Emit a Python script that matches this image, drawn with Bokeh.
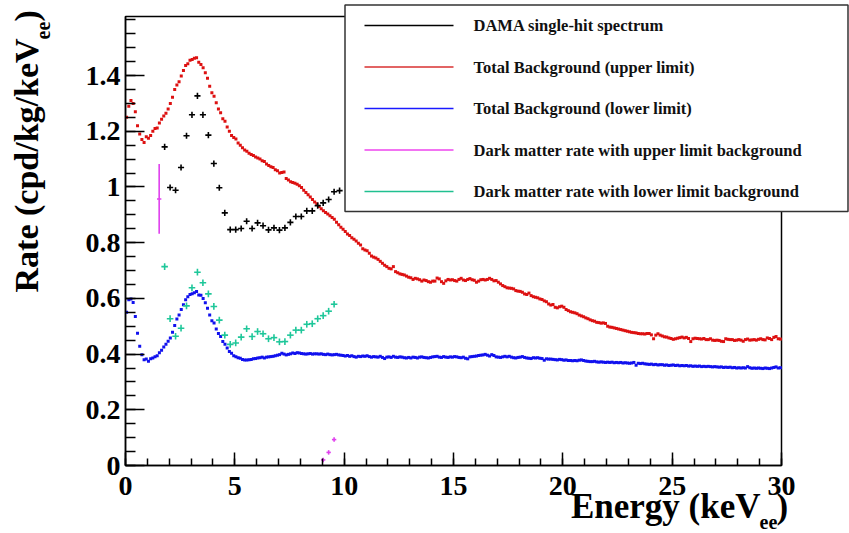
from bokeh.plotting import figure
from bokeh.models import (Range1d, FixedTicker, Label, LinearAxis,
                          CustomJSTickFormatter)
from bokeh.embed import file_html
from bokeh.resources import INLINE
import math

# ---- data -------------------------------------------------------------
# background model, 0.1 keV bins (bin centres)
energy = [round(0.05 + 0.1 * i, 2) for i in range(300)]

bkg_upper = [
    1.25, 1.29, 1.31, 1.30, 1.27, 1.22, 1.19, 1.17, 1.16, 1.18,
    1.175, 1.185, 1.20, 1.21, 1.212, 1.23, 1.243, 1.255, 1.265, 1.28,
    1.30, 1.322, 1.35, 1.366, 1.378, 1.398, 1.418, 1.436, 1.442, 1.455,
    1.458, 1.462, 1.464, 1.448, 1.440, 1.428, 1.410, 1.390, 1.362, 1.338,
    1.326, 1.302, 1.280, 1.266, 1.245, 1.236, 1.215, 1.200, 1.185, 1.178,
    1.172, 1.158, 1.150, 1.141, 1.133, 1.128, 1.121, 1.117, 1.113, 1.108,
    1.104, 1.100, 1.094, 1.091, 1.082, 1.077, 1.073, 1.070, 1.062, 1.058,
    1.050, 1.052, 1.054, 1.030, 1.025, 1.019, 1.016, 1.013, 1.010, 1.004,
    0.998, 0.988, 0.980, 0.972, 0.964, 0.955, 0.946, 0.940, 0.930, 0.922,
    0.915, 0.908, 0.903, 0.897, 0.890, 0.884, 0.873, 0.864, 0.855, 0.848,
    0.840, 0.831, 0.826, 0.818, 0.812, 0.806, 0.798, 0.792, 0.778, 0.774,
    0.771, 0.762, 0.752, 0.748, 0.745, 0.740, 0.733, 0.726, 0.719, 0.714,
    0.708, 0.706, 0.714, 0.696, 0.692, 0.688, 0.686, 0.684, 0.680, 0.676,
    0.674, 0.668, 0.672, 0.670, 0.667, 0.662, 0.666, 0.664, 0.660, 0.658,
    0.662, 0.662, 0.673, 0.670, 0.660, 0.654, 0.663, 0.668, 0.666, 0.667,
    0.664, 0.662, 0.668, 0.672, 0.666, 0.664, 0.668, 0.671, 0.667, 0.665,
    0.658, 0.662, 0.667, 0.668, 0.666, 0.668, 0.672, 0.668, 0.663, 0.664,
    0.658, 0.652, 0.646, 0.642, 0.638, 0.637, 0.636, 0.634, 0.628, 0.626,
    0.625, 0.622, 0.616, 0.614, 0.619, 0.610, 0.606, 0.604, 0.602, 0.598,
    0.596, 0.591, 0.588, 0.580, 0.576, 0.578, 0.568, 0.566, 0.570, 0.572,
    0.568, 0.560, 0.556, 0.552, 0.550, 0.548, 0.545, 0.540, 0.537, 0.534,
    0.530, 0.527, 0.523, 0.520, 0.518, 0.514, 0.513, 0.511, 0.512, 0.510,
    0.500, 0.497, 0.496, 0.494, 0.492, 0.490, 0.488, 0.486, 0.484, 0.482,
    0.480, 0.478, 0.477, 0.476, 0.474, 0.473, 0.473, 0.472, 0.474, 0.474,
    0.469, 0.455, 0.468, 0.473, 0.468, 0.465, 0.462, 0.461, 0.458, 0.456,
    0.453, 0.455, 0.457, 0.459, 0.461, 0.458, 0.460, 0.456, 0.445, 0.455,
    0.457, 0.456, 0.455, 0.454, 0.456, 0.452, 0.452, 0.455, 0.450, 0.449,
    0.450, 0.449, 0.446, 0.445, 0.455, 0.453, 0.452, 0.452, 0.449, 0.450,
    0.452, 0.450, 0.446, 0.452, 0.454, 0.450, 0.451, 0.452, 0.450, 0.453,
    0.455, 0.452, 0.451, 0.458, 0.456, 0.452, 0.460, 0.463, 0.455, 0.454,
]

bkg_lower = [
    0.550, 0.595, 0.598, 0.585, 0.535, 0.475, 0.428, 0.398, 0.380, 0.382,
    0.374, 0.383, 0.386, 0.390, 0.394, 0.405, 0.414, 0.425, 0.435, 0.446,
    0.458, 0.478, 0.503, 0.526, 0.540, 0.560, 0.577, 0.595, 0.606, 0.614,
    0.617, 0.620, 0.625, 0.612, 0.611, 0.600, 0.584, 0.565, 0.540, 0.520,
    0.512, 0.490, 0.474, 0.463, 0.445, 0.435, 0.422, 0.409, 0.403, 0.394,
    0.390, 0.387, 0.385, 0.381, 0.379, 0.379, 0.380, 0.381, 0.383, 0.384,
    0.386, 0.387, 0.389, 0.386, 0.389, 0.390, 0.391, 0.392, 0.394, 0.396,
    0.398, 0.403, 0.400, 0.397, 0.399, 0.401, 0.404, 0.402, 0.405, 0.404,
    0.402, 0.401, 0.400, 0.401, 0.402, 0.400, 0.401, 0.401, 0.400, 0.401,
    0.399, 0.398, 0.400, 0.398, 0.397, 0.398, 0.399, 0.397, 0.396, 0.395,
    0.393, 0.395, 0.392, 0.394, 0.391, 0.389, 0.392, 0.391, 0.393, 0.392,
    0.394, 0.391, 0.389, 0.391, 0.390, 0.389, 0.392, 0.388, 0.384, 0.389,
    0.390, 0.388, 0.392, 0.389, 0.388, 0.390, 0.389, 0.387, 0.386, 0.388,
    0.386, 0.389, 0.388, 0.386, 0.389, 0.390, 0.388, 0.387, 0.386, 0.388,
    0.390, 0.391, 0.392, 0.389, 0.388, 0.391, 0.389, 0.388, 0.390, 0.389,
    0.391, 0.390, 0.388, 0.387, 0.389, 0.385, 0.383, 0.390, 0.391, 0.392,
    0.393, 0.395, 0.396, 0.397, 0.399, 0.396, 0.393, 0.398, 0.395, 0.390,
    0.389, 0.388, 0.390, 0.392, 0.390, 0.392, 0.389, 0.387, 0.386, 0.388,
    0.389, 0.391, 0.388, 0.386, 0.385, 0.384, 0.387, 0.386, 0.387, 0.385,
    0.384, 0.378, 0.383, 0.382, 0.382, 0.381, 0.380, 0.379, 0.381, 0.380,
    0.378, 0.379, 0.377, 0.377, 0.376, 0.377, 0.376, 0.378, 0.379, 0.377,
    0.375, 0.374, 0.373, 0.373, 0.374, 0.372, 0.371, 0.372, 0.371, 0.370,
    0.371, 0.370, 0.371, 0.369, 0.370, 0.369, 0.370, 0.368, 0.369, 0.368,
    0.367, 0.368, 0.370, 0.360, 0.367, 0.366, 0.367, 0.365, 0.364, 0.363,
    0.364, 0.362, 0.363, 0.361, 0.362, 0.362, 0.360, 0.361, 0.359, 0.360,
    0.361, 0.359, 0.360, 0.358, 0.359, 0.358, 0.359, 0.357, 0.358, 0.356,
    0.357, 0.356, 0.357, 0.355, 0.356, 0.355, 0.356, 0.355, 0.354, 0.355,
    0.354, 0.353, 0.354, 0.352, 0.353, 0.352, 0.353, 0.351, 0.352, 0.350,
    0.351, 0.350, 0.351, 0.350, 0.355, 0.351, 0.349, 0.350, 0.349, 0.350,
    0.349, 0.348, 0.350, 0.349, 0.348, 0.350, 0.352, 0.354, 0.350, 0.351,
]

# DAMA single-hit spectrum, 0.25 keV bins
dama_energy = [1.79, 2.04, 2.29, 2.54, 2.79, 3.04, 3.29, 3.54, 3.79, 4.04,
               4.29, 4.54, 4.79, 5.04, 5.29, 5.54, 5.79, 6.04, 6.29, 6.54,
               6.79, 7.04, 7.29, 7.54, 7.79, 8.04, 8.29, 8.54, 8.79, 9.04,
               9.29, 9.54, 9.79]
dama_rate = [1.144, 0.998, 0.988, 1.070, 1.184, 1.259, 1.327, 1.259, 1.186, 1.084,
             0.997, 0.907, 0.847, 0.847, 0.851, 0.877, 0.851, 0.871, 0.861, 0.846,
             0.853, 0.845, 0.853, 0.873, 0.894, 0.894, 0.914, 0.914, 0.933, 0.943,
             0.955, 0.983, 0.987]
dama_err = [0.011, 0.011, 0.011, 0.011, 0.011, 0.011, 0.011, 0.011, 0.011, 0.011,
            0.011, 0.011, 0.011, 0.011, 0.011, 0.011, 0.011, 0.011, 0.011, 0.011,
            0.011, 0.011, 0.011, 0.011, 0.011, 0.011, 0.011, 0.011, 0.011, 0.011,
            0.011, 0.011, 0.011]

# dark-matter residual with the lower-limit background
dm_low_energy = dama_energy[:32]
dm_low_rate = [0.714, 0.527, 0.464, 0.493, 0.573, 0.638, 0.694, 0.656, 0.616, 0.571,
               0.522, 0.468, 0.435, 0.440, 0.461, 0.491, 0.463, 0.481, 0.473, 0.455,
               0.459, 0.444, 0.445, 0.468, 0.486, 0.486, 0.507, 0.509, 0.527, 0.538,
               0.554, 0.579]
dm_low_err = [0.012, 0.012, 0.012, 0.012, 0.012, 0.012, 0.012, 0.012, 0.012, 0.012,
              0.012, 0.012, 0.012, 0.012, 0.012, 0.012, 0.012, 0.012, 0.012, 0.012,
              0.012, 0.012, 0.012, 0.012, 0.012, 0.012, 0.012, 0.012, 0.012, 0.012,
              0.012, 0.012]

# dark-matter residual with the upper-limit background (positive bins only)
dm_up_energy = [1.54, 9.04, 9.29, 9.54]
dm_up_rate = [0.957, 0.020, 0.047, 0.093]
dm_up_err = [0.125, 0.008, 0.008, 0.008]

legend_labels = ["DAMA single-hit spectrum",
                 "Total Background (upper limit)",
                 "Total Background (lower limit)",
                 "Dark matter rate with upper limit background",
                 "Dark matter rate with lower limit background"]

y_ticks = [0, 0.2, 0.4, 0.6, 0.8, 1, 1.2, 1.4]
x_ticks = [0, 5, 10, 15, 20, 25, 30]
X_MAX = 30
Y_MAX = 1.612

# ---- page geometry ------------------------------------------------------
W, H = 849, 533
LEFT, RIGHT, TOP, BOTTOM = 125, 781, 16, 465     # plot box in pixels
SX = (RIGHT - LEFT) / X_MAX
SY = (BOTTOM - TOP) / Y_MAX


def dx(px):
    """pixel column -> energy coordinate"""
    return (px - LEFT) / SX


def dy(py):
    """pixel row -> rate coordinate"""
    return (BOTTOM - py) / SY


RED = "#dd1111"
BLUE = "#1111ee"
MAGENTA = "#e040ee"
TEAL = "#1fc79a"
FONT = "Liberation Serif"

# the frame fills the whole canvas; the axes sit at fixed positions inside it
p = figure(width=W, height=H,
           x_range=Range1d(dx(0), dx(W)), y_range=Range1d(dy(H), dy(0)),
           output_backend="svg", toolbar_location=None,
           x_axis_location=None, y_axis_location=None,
           min_border=0, min_border_left=0, min_border_right=0,
           min_border_top=0, min_border_bottom=0)
p.background_fill_color = "white"
p.border_fill_color = "white"
p.outline_line_color = None
p.grid.visible = False

xaxis = LinearAxis(fixed_location=0, bounds=(0, X_MAX),
                   ticker=FixedTicker(ticks=x_ticks, minor_ticks=list(range(0, 31))))
yaxis = LinearAxis(fixed_location=0, bounds=(0, Y_MAX),
                   ticker=FixedTicker(ticks=y_ticks,
                                      minor_ticks=[round(0.05 * i, 2) for i in range(33)]),
                   formatter=CustomJSTickFormatter(
                       code="return (Math.round(tick * 100) / 100).toString();"))
for ax in (xaxis, yaxis):
    ax.axis_line_color = "black"
    ax.axis_line_width = 1.5
    ax.major_tick_out = 0
    ax.minor_tick_out = 0
    ax.major_tick_line_width = 1.5
    ax.minor_tick_line_width = 1.5
    ax.major_label_text_font = FONT
    ax.major_label_text_font_style = "bold"
    ax.major_label_text_font_size = "28px"
    ax.major_label_text_color = "black"
xaxis.major_tick_in = 13
xaxis.minor_tick_in = 7
yaxis.major_tick_in = 19
yaxis.minor_tick_in = 10
xaxis.major_label_standoff = 11
yaxis.major_label_standoff = 5
p.add_layout(xaxis, "below")
p.add_layout(yaxis, "left")

# plot box
p.quad(left=0, right=X_MAX, bottom=0, top=Y_MAX, fill_color=None,
       line_color="black", line_width=1.5)

# background curves
p.scatter(energy, bkg_upper, marker="square", size=3, fill_color=RED, line_color=None)
p.scatter(energy, bkg_lower, marker="square", size=3, fill_color=BLUE, line_color=None)


def crosses(xs, ys, errs, half_w, color, width):
    p.segment(x0=[x - half_w for x in xs], y0=ys, x1=[x + half_w for x in xs], y1=ys,
              line_color=color, line_width=width)
    p.segment(x0=xs, y0=[y - e for y, e in zip(ys, errs)],
              x1=xs, y1=[y + e for y, e in zip(ys, errs)],
              line_color=color, line_width=width)


crosses(dama_energy, dama_rate, dama_err, 0.14, "black", 1.6)
crosses(dm_low_energy, dm_low_rate, dm_low_err, 0.15, TEAL, 1.6)
crosses(dm_up_energy, dm_up_rate, dm_up_err, 0.1, MAGENTA, 1.6)

# legend box
p.quad(left=dx(344.5), right=dx(847.5), top=dy(4.5), bottom=dy(211),
       fill_color="white", line_color="#333333", line_width=1.5)
leg_colors = ["black", "#d83030", "#1a1aff", "#ee44ee", "#20c090"]
leg_rows = [25, 66.5, 108, 149.5, 191]
for lab, col, row in zip(legend_labels, leg_colors, leg_rows):
    p.segment(x0=[dx(364)], y0=[dy(row)], x1=[dx(453)], y1=[dy(row)],
              line_color=col, line_width=1.6)
    p.add_layout(Label(x=dx(473), y=dy(row), text=lab, text_font=FONT,
                       text_font_style="bold", text_font_size="16.5px",
                       text_color="#111111", text_baseline="middle"))

# axis titles
title_kw = dict(text_font=FONT, text_font_style="bold", text_color="black",
                text_baseline="alphabetic")
p.add_layout(Label(x=dx(760), y=dy(506), text="Energy (keV", text_align="right",
                   text_font_size="35px", **title_kw))
p.add_layout(Label(x=dx(759), y=dy(521), text="ee", text_align="left",
                   text_font_size="20px", **title_kw))
p.add_layout(Label(x=dx(776), y=dy(506), text=")", text_align="left",
                   text_font_size="35px", **title_kw))

p.add_layout(Label(x=dx(26), y=dy(292), text="Rate (cpd/kg/keV", angle=math.pi / 2,
                   text_align="left", text_font_size="34px", **title_kw))
p.add_layout(Label(x=dx(42), y=dy(39), text="ee", angle=math.pi / 2,
                   text_align="left", text_font_size="20px", **title_kw))
p.add_layout(Label(x=dx(26), y=dy(21), text=")", angle=math.pi / 2,
                   text_align="left", text_font_size="34px", **title_kw))

open("out.html", "w").write(file_html(p, INLINE))
